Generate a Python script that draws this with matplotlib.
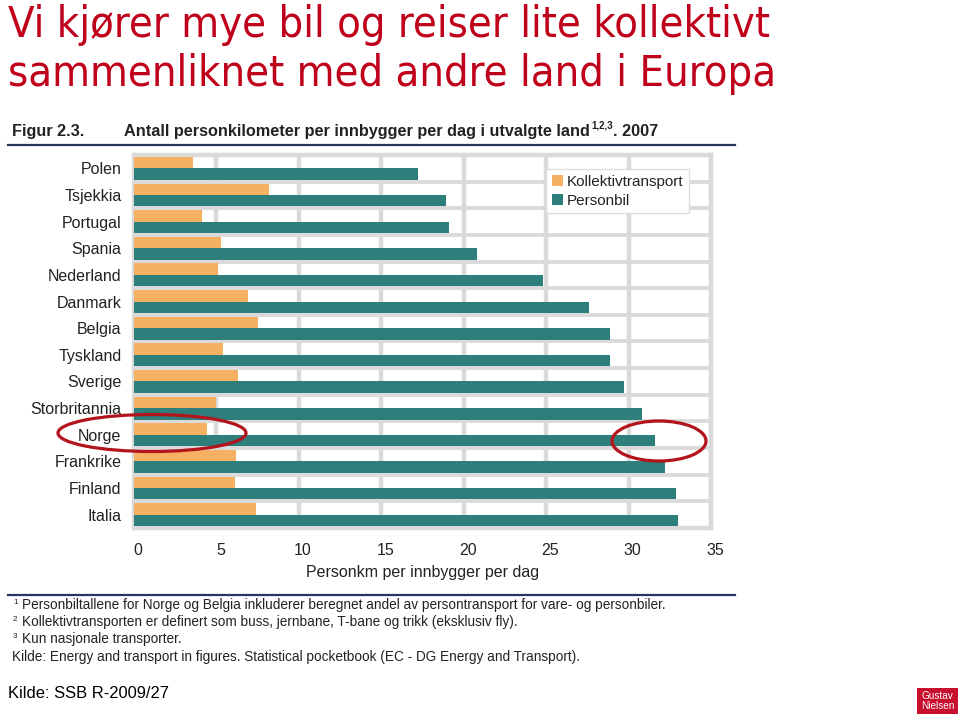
import matplotlib
matplotlib.use("Agg")
import matplotlib.pyplot as plt
import matplotlib.transforms as mtransforms
from matplotlib import font_manager
from matplotlib.patches import Ellipse, Rectangle, Patch
from matplotlib.lines import Line2D

# ---------------- data ----------------
countries = ["Polen", "Tsjekkia", "Portugal", "Spania", "Nederland", "Danmark",
             "Belgia", "Tyskland", "Sverige", "Storbritannia", "Norge",
             "Frankrike", "Finland", "Italia"]
kollektiv = [3.6, 8.2, 4.1, 5.3, 5.1, 6.9, 7.5, 5.4, 6.3, 5.0, 4.4, 6.2, 6.1, 7.4]
personbil = [17.2, 18.9, 19.1, 20.8, 24.8, 27.6, 28.9, 28.9, 29.7, 30.8, 31.6,
             32.2, 32.9, 33.0]
series_names = ["Kollektivtransport", "Personbil"]
xticks = [0, 5, 10, 15, 20, 25, 30, 35]

title_lines = ["Vi kjører mye bil og reiser lite kollektivt",
               "sammenliknet med andre land i Europa"]
fig_label = "Figur 2.3."
fig_heading = "Antall personkilometer per innbygger per dag i utvalgte land"
fig_heading_sup = "1,2,3"
fig_heading_end = ". 2007"
xlabel = "Personkm per innbygger per dag"
footnotes = [("1", "Personbiltallene for Norge og Belgia inkluderer beregnet andel av persontransport for vare- og personbiler."),
             ("2", "Kollektivtransporten er definert som buss, jernbane, T-bane og trikk (eksklusiv fly)."),
             ("3", "Kun nasjonale transporter."),
             ("", "Kilde: Energy and transport in figures. Statistical pocketbook (EC - DG Energy and Transport).")]
source = "Kilde: SSB R-2009/27"
logo = "Gustav\nNielsen"

# ---------------- style ----------------
avail = {f.name for f in font_manager.fontManager.ttflist}
NARROW = "Liberation Sans Narrow" if "Liberation Sans Narrow" in avail else "Liberation Sans"
SANS = "Liberation Sans"
ORANGE = "#F6B064"
TEAL = "#2E7E7C"
GRID = "#DADADA"
NAVY = "#27355F"
RED = "#C0001A"
TXT = "#222222"

W, H = 960, 720
fig = plt.figure(figsize=(9.6, 7.2), dpi=100)
fig.patch.set_facecolor("white")


def fx(x):
    return x / W


def fy(y):
    return 1 - y / H


def fit(t, target):
    r = fig.canvas.get_renderer()
    w = t.get_window_extent(r).width
    t.set_fontsize(t.get_fontsize() * target / w)
    return t.get_fontsize()


# ---------------- axes ----------------
ax_l, ax_r, ax_t, ax_b = 134, 711, 155, 528
ax = fig.add_axes([fx(ax_l), fy(ax_b), (ax_r - ax_l) / W, (ax_b - ax_t) / H])
ax.set_facecolor("white")
n = len(countries)
ys = list(range(n))
h = 0.43
ax.barh([y - h / 2 for y in ys], kollektiv, height=h, color=ORANGE, zorder=3,
        label=series_names[0])
ax.barh([y + h / 2 for y in ys], personbil, height=h, color=TEAL, zorder=3,
        label=series_names[1])
ax.set_xlim(0, 35)
ax.set_ylim(n - 0.5, -0.5)
ax.set_xticks(xticks)
ax.set_xticklabels([str(v) for v in xticks])
ax.set_yticks(ys)
ax.set_yticklabels(countries)
ax.set_yticks([y + 0.5 for y in ys[:-1]], minor=True)
ax.grid(True, axis="x", which="major", color=GRID, lw=3.2, zorder=0)
ax.grid(True, axis="y", which="minor", color=GRID, lw=2.8, zorder=0)
ax.grid(False, axis="y", which="major")
for s in ax.spines.values():
    s.set_color(GRID)
    s.set_linewidth(3.2)
ax.tick_params(axis="both", which="both", length=0)
ax.tick_params(axis="x", pad=11, labelsize=11.5, labelcolor=TXT)
ax.tick_params(axis="y", pad=9, labelsize=11.5, labelcolor=TXT)
shift = mtransforms.ScaledTranslation(4 / 100, 0, fig.dpi_scale_trans)
for lab in ax.get_xticklabels():
    lab.set_fontfamily(SANS)
    lab.set_transform(lab.get_transform() + shift)
for lab in ax.get_yticklabels():
    lab.set_fontfamily(SANS)
ax.set_xlabel(xlabel, fontsize=11.5, color=TXT, family=SANS, labelpad=5)

handles = [Patch(facecolor=ORANGE, edgecolor="none"), Patch(facecolor=TEAL, edgecolor="none")]
leg = ax.legend(handles, series_names, loc="upper right", bbox_to_anchor=(0.962, 0.962),
                frameon=True, fancybox=False, framealpha=1, edgecolor="#DDDDDD",
                prop={"family": SANS, "size": 11}, handlelength=0.75, handleheight=0.75,
                handletextpad=0.25, borderpad=0.35, labelspacing=0.35, borderaxespad=0)
leg.get_frame().set_linewidth(1)
for t in leg.get_texts():
    t.set_color(TXT)

# ---------------- title ----------------
t1 = fig.text(fx(8), fy(37), title_lines[0], color=RED, family="DejaVu Sans",
              fontstretch="condensed", fontsize=30, va="baseline", ha="left")
t2 = fig.text(fx(8), fy(86), title_lines[1], color=RED, family="DejaVu Sans",
              fontstretch="condensed", fontsize=30, va="baseline", ha="left")
fit(t1, 762)
t2.set_fontsize(t1.get_fontsize())

# ---------------- figure heading ----------------
base = 136
hl = fig.text(fx(12), fy(base), fig_label, color=TXT, family=NARROW, weight="bold",
              fontsize=11, va="baseline")
fit(hl, 69)
hh = fig.text(fx(124), fy(base), fig_heading, color=TXT, family=NARROW, weight="bold",
              fontsize=11, va="baseline")
fs_h = fit(hh, 466)
hl.set_fontsize(fs_h)
r = fig.canvas.get_renderer()
x_end = hh.get_window_extent(r).x1
hs = fig.text(x_end / W + 1 / W, fy(base - 7), fig_heading_sup, color=TXT, family=NARROW,
              weight="bold", fontsize=fs_h * 0.6, va="baseline", ha="left")
x_end2 = hs.get_window_extent(r).x1
fig.text(x_end2 / W, fy(base), fig_heading_end, color=TXT, family=NARROW, weight="bold",
         fontsize=fs_h, va="baseline", ha="left")
fig.add_artist(Line2D([fx(8), fx(735)], [fy(145), fy(145)], color=NAVY, lw=1.6))
fig.add_artist(Line2D([fx(8), fx(735)], [fy(595), fy(595)], color=NAVY, lw=1.6))

# ---------------- footnotes ----------------
fn_y = [609, 626, 643, 661]
first = fig.text(fx(22), fy(fn_y[0]), footnotes[0][1], color=TXT, family=NARROW,
                 fontsize=10, va="baseline")
fs_f = fit(first, 643)
for (sp, txt), y in zip(footnotes[1:], fn_y[1:]):
    x0 = 22 if sp else 12
    fig.text(fx(x0), fy(y), txt, color=TXT, family=NARROW, fontsize=fs_f, va="baseline")
for (sp, txt), y in zip(footnotes, fn_y):
    if sp:
        fig.text(fx(13), fy(y - 5), sp, color=TXT, family=NARROW, fontsize=fs_f * 0.6,
                 va="baseline")

src = fig.text(fx(8), fy(698), source, color="black", family=SANS, fontsize=13,
               va="baseline")
fit(src, 160)

# ---------------- logo ----------------
fig.add_artist(Rectangle((fx(917), fy(714)), 41 / W, 26 / H, transform=fig.transFigure,
                         facecolor="#C8102E", edgecolor="none"))
fig.text(fx(937.5), fy(701), logo, color="white", family=SANS, fontsize=7.2,
         ha="center", va="center", linespacing=0.95)

# ---------------- red ellipses ----------------
for cx, cy, ew, eh in [(152, 433, 188, 37), (659, 441, 94, 40)]:
    fig.add_artist(Ellipse((fx(cx), fy(cy)), ew / W, eh / H, transform=fig.transFigure,
                           facecolor="none", edgecolor="#B3141C", lw=2.3, zorder=10))

fig.savefig("out.png", dpi=100, facecolor="white")
